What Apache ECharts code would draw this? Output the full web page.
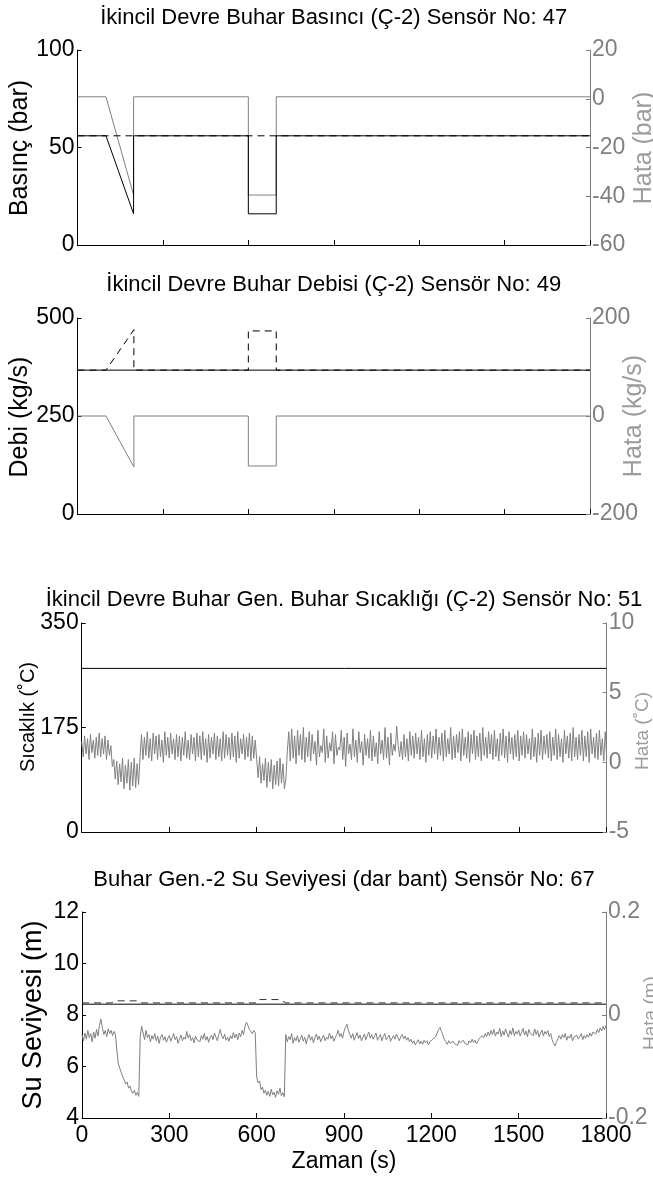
<!DOCTYPE html>
<html><head><meta charset="utf-8">
<script src="https://cdn.jsdelivr.net/npm/echarts@6/dist/echarts.min.js"></script>
<style>html,body{margin:0;padding:0;background:#fff}#c{width:653px;height:1183px}</style>
</head><body><div id="c"></div><script>
// ---------- data ----------
const xTicks = [0, 300, 600, 900, 1200, 1500, 1800];
const titles = [
  'İkincil Devre Buhar Basıncı (Ç-2) Sensör No: 47',
  'İkincil Devre Buhar Debisi (Ç-2) Sensör No: 49',
  'İkincil Devre Buhar Gen. Buhar Sıcaklığı (Ç-2) Sensör No: 51',
  'Buhar Gen.-2 Su Seviyesi (dar bant) Sensör No: 67'
];
const leftNames = ['Basınç (bar)', 'Debi (kg/s)', 'Sıcaklık (˚C)', 'Su Seviyesi (m)'];
const rightNames = ['Hata (bar)', 'Hata (kg/s)', 'Hata (˚C)', 'Hata (m)'];
const xName = 'Zaman (s)';
// Panel 1: pressure (bar) / error (bar)
const p1Time = [0, 100, 197, 197, 600, 600, 698, 698, 1800];
const p1Measured = [56, 56, 16, 56, 56, 16, 16, 56, 56];
const p1EstTime = [0, 1800];
const p1Estimate = [56, 56];
const p1Error = [0.8, 0.8, -39.5, 0.8, 0.8, -39.5, -39.5, 0.8, 0.8];
// Panel 2: flow (kg/s) / error (kg/s)
const p2EstTime = [0, 1800];
const p2Estimate = [367, 367];
const p2Time = [0, 100, 198, 198, 600, 600, 698, 698, 1800];
const p2Measured = [367, 367, 470, 367, 367, 467, 467, 367, 367];
const p2Error = [0, 0, -104, 0, 0, -102, -102, 0, 0];
// Panel 3: temperature (°C) / error (°C), error sampled every 5 s
const p3Time = [0, 1800];
const p3Measured = [274, 274];
const sampleStep = 5;
const p3Error = [
1.5,0.4,1.9,0.6,1.7,0.2,2.0,0.7,1.6,0.3,1.8,0.5,2.1,0.4,1.7,0.6,1.9,0.2,1.6,0.5,
1.2,-0.3,0.2,-1.2,0.1,-1.6,-0.1,-1.4,0.3,-1.9,-0.2,-1.5,0.2,-2.0,0.0,-1.7,0.3,-1.8,-0.1,-1.6,
0.4,2.0,0.2,1.8,0.5,2.2,0.3,1.7,0.1,2.1,0.6,1.9,0.2,2.0,0.4,1.6,0.0,2.2,0.5,1.8,
0.3,2.1,0.6,1.7,0.2,2.0,0.4,1.9,0.1,1.8,0.5,2.2,0.3,1.6,0.2,2.0,0.6,1.8,0.1,2.1,
0.4,1.9,0.2,2.2,0.5,1.7,0.0,2.0,0.3,1.8,0.6,2.1,0.2,1.9,0.4,1.7,0.1,2.2,0.3,2.0,
0.5,1.8,0.2,2.1,0.4,1.9,0.0,2.2,0.3,1.7,0.6,2.0,0.2,1.8,0.4,2.1,0.1,1.9,0.3,1.6,
0.2,-1.1,0.4,-1.5,-0.1,-1.3,0.3,-1.8,0.0,-1.4,0.2,-1.9,-0.2,-1.6,0.1,-1.7,0.3,-1.5,-0.1,-1.9,
-1.2,0.8,2.2,0.1,2.4,0.3,1.9,-0.1,2.3,0.5,2.0,0.2,2.5,0.0,1.8,0.4,2.2,0.1,2.0,0.6,
1.5,-0.2,2.3,0.4,1.2,0.7,2.4,0.0,1.9,0.3,1.4,0.8,2.2,-0.1,2.0,0.5,1.1,0.9,2.3,0.2,
1.8,-0.3,2.1,0.6,1.3,0.2,2.4,0.4,1.6,0.0,2.2,0.7,1.5,-0.2,2.0,0.5,1.7,0.3,2.3,0.1,
1.9,0.4,1.4,-0.1,2.2,0.6,1.6,0.2,2.5,0.3,1.8,-0.2,2.1,0.5,1.3,0.8,2.6,1.2,0.4,1.5,
0.2,2.0,0.4,1.7,0.1,2.2,0.5,1.9,0.3,2.1,0.6,1.8,0.2,2.3,0.4,1.7,0.0,2.0,0.5,2.2,
0.3,1.9,0.6,2.4,0.2,1.8,0.5,2.1,0.1,2.3,0.4,1.7,0.6,2.5,0.2,1.9,0.3,2.0,0.7,2.2,
0.1,2.4,0.5,1.8,0.3,2.2,0.0,2.0,0.6,2.3,0.2,1.9,0.4,2.1,0.1,2.5,0.5,1.8,0.3,2.2,
0.6,2.0,0.2,2.3,0.4,1.7,0.1,2.1,0.5,2.4,0.3,1.9,0.0,2.2,0.6,1.8,0.2,2.0,0.4,2.3,
0.1,1.9,0.5,2.2,0.3,2.0,0.6,1.7,0.2,2.4,0.4,1.8,0.0,2.1,0.5,2.3,0.2,1.9,0.6,2.0,
0.3,2.2,0.1,1.8,0.5,2.4,0.2,2.0,0.4,1.7,0.0,2.3,0.6,1.9,0.3,2.1,0.1,2.5,0.4,1.8,
0.2,2.0,0.5,2.3,0.1,1.9,0.4,2.2,0.0,2.4,0.6,1.8,0.3,2.1,0.2,2.3,0.5,1.7,0.1,2.2,
0.3];
// Panel 4: level (m) / error (mm, shown in m), error sampled every 5 s
const p4Time = [0, 1800];
const p4Measured = [8.42, 8.42];
const p4EstTime = [0, 100, 120, 190, 200, 600, 610, 680, 700, 1800];
const p4Estimate = [8.47, 8.47, 8.55, 8.55, 8.47, 8.47, 8.6, 8.6, 8.47, 8.47];
const p4ErrorMm = [
-38,-50,-35,-47,-30,-44,-36,-52,-33,-45,-28,-41,-20,-8,-25,-38,-30,-42,-27,-36,
-30,-40,-32,-38,-70,-95,-104,-112,-120,-126,-134,-130,-142,-138,-148,-152,-146,-156,-150,-158,
-42,-22,-35,-48,-30,-44,-38,-52,-40,-47,-36,-50,-41,-55,-43,-38,-49,-42,-53,-45,
-40,-51,-44,-36,-48,-42,-55,-46,-39,-50,-43,-47,-32,-45,-38,-50,-44,-54,-41,-48,
-45,-52,-40,-47,-36,-49,-42,-53,-44,-39,-48,-35,-43,-50,-38,-28,-41,-46,-37,-49,
-43,-51,-40,-46,-34,-44,-37,-48,-35,-42,-30,-38,-22,-14,-20,-28,-32,-36,-30,-34,
-120,-132,-128,-145,-140,-152,-146,-156,-148,-158,-144,-155,-150,-160,-147,-154,-142,-157,-151,-159,
-38,-52,-42,-48,-36,-55,-44,-50,-40,-53,-46,-39,-51,-43,-56,-45,-38,-49,-42,-54,
-44,-37,-48,-41,-52,-45,-39,-50,-43,-47,-35,-46,-40,-51,-44,-38,-30,-42,-36,-45,
-32,-24,-18,-30,-38,-45,-36,-49,-41,-34,-46,-39,-50,-43,-37,-48,-40,-33,-45,-38,
-47,-41,-35,-49,-43,-38,-50,-42,-36,-48,-44,-39,-51,-45,-40,-47,-37,-44,-50,-42,
-38,-46,-41,-49,-44,-52,-47,-55,-50,-58,-53,-48,-56,-51,-57,-49,-54,-50,-58,-52,
-55,-47,-50,-42,-35,-28,-24,-32,-40,-48,-52,-57,-50,-55,-58,-51,-56,-53,-59,-50,
-54,-57,-49,-55,-52,-58,-50,-54,-47,-53,-49,-56,-51,-45,-48,-40,-44,-36,-42,-33,
-40,-30,-38,-28,-41,-33,-37,-26,-42,-31,-39,-27,-36,-43,-30,-38,-25,-40,-32,-37,
-29,-41,-34,-26,-39,-31,-42,-28,-36,-33,-40,-27,-38,-30,-43,-35,-29,-41,-32,-37,
-30,-42,-36,-48,-55,-60,-52,-46,-40,-47,-38,-44,-36,-49,-41,-45,-37,-50,-43,-46,
-39,-47,-42,-36,-48,-40,-45,-38,-43,-35,-41,-33,-30,-37,-28,-34,-25,-31,-22,-29,
-20];

// ---------- styling ----------
const REG = '"Liberation Sans", Arial, sans-serif';
const BLACK = '#000000', GRAY = '#808080', NAMEGRAY = '#9c9c9c';
const TICKFONT = 23;

const grids = [
  {left: 77.5, top: 50, width: 512.5, height: 195},
  {left: 77.5, top: 318, width: 512.5, height: 196},
  {left: 81.7, top: 623, width: 525, height: 209},
  {left: 82, top: 912, width: 524, height: 206}
];
const titlePos = [[333.75, 18], [333.75, 285], [344, 600], [344, 880]];
// rotated axis-name placement: [x, y, fontSize]
const leftNamePos = [[20, 148, 25], [20, 417, 25], [28, 717, 20], [33.5, 1015, 27]];
const rightNamePos = [[644, 148, 25], [634, 416, 25], [643, 731, 19], [651, 1013, 19]];

function zip(t, v, scale) { return t.map((x, i) => [x, scale ? v[i] * scale : v[i]]); }
function sampled(v, scale) { return v.map((y, i) => [i * sampleStep, scale ? y * scale : y]); }
function plain(v) { return String(Math.round(v * 1000) / 1000); }

function xAx(gi, last) {
  return {
    type: 'value', gridIndex: gi, min: xTicks[0], max: xTicks[xTicks.length - 1], interval: 300,
    axisLine: {show: true, onZero: false, lineStyle: {color: BLACK, width: 1}},
    axisTick: {show: true, inside: true, length: 5, lineStyle: {color: BLACK}},
    axisLabel: {show: last, color: BLACK, fontFamily: REG, fontSize: TICKFONT, margin: 6, formatter: plain},
    splitLine: {show: false},
    name: last ? xName : '', nameLocation: 'middle', nameGap: 32,
    nameTextStyle: {color: BLACK, fontFamily: REG, fontSize: 23}
  };
}
function yAx(gi, right, min, max, interval) {
  const col = right ? GRAY : BLACK;
  return {
    type: 'value', gridIndex: gi, position: right ? 'right' : 'left', min, max, interval,
    axisLine: {show: true, onZero: false, lineStyle: {color: col, width: 1}},
    axisTick: {show: true, inside: true, length: 4, lineStyle: {color: col}},
    axisLabel: {show: true, color: col, fontFamily: REG, fontSize: TICKFONT, margin: right ? 2 : 3, formatter: plain},
    splitLine: {show: false}
  };
}
function line(xi, yi, data, color, dashed) {
  return {
    type: 'line', xAxisIndex: xi, yAxisIndex: yi, data, showSymbol: false, symbol: 'none',
    lineStyle: {color, width: 1, type: dashed ? [7, 5] : 'solid'}, silent: true, animation: false
  };
}
function vtext(txt, pos, color) {
  return {
    type: 'text', x: pos[0], y: pos[1], rotation: Math.PI / 2, silent: true,
    style: {text: txt, fill: color, fontFamily: REG, fontSize: pos[2],
      align: 'center', verticalAlign: 'middle', textAlign: 'center', textVerticalAlign: 'middle'}
  };
}

const graphics = [];
titles.forEach((t, i) => graphics.push({
  type: 'text', x: titlePos[i][0], y: titlePos[i][1], silent: true,
  style: {text: t, fill: BLACK, fontFamily: REG, fontSize: 22,
    align: 'center', verticalAlign: 'middle', textAlign: 'center', textVerticalAlign: 'middle'}
}));
leftNames.forEach((t, i) => graphics.push(vtext(t, leftNamePos[i], BLACK)));
rightNames.forEach((t, i) => graphics.push(vtext(t, rightNamePos[i], NAMEGRAY)));

const option = {
  animation: false,
  backgroundColor: '#ffffff',
  grid: grids,
  xAxis: [xAx(0, false), xAx(1, false), xAx(2, false), xAx(3, true)],
  yAxis: [
    yAx(0, false, 0, 100, 50), yAx(0, true, -60, 20, 20),
    yAx(1, false, 0, 500, 250), yAx(1, true, -200, 200, 200),
    yAx(2, false, 0, 350, 175), yAx(2, true, -5, 10, 5),
    yAx(3, false, 4, 12, 2), yAx(3, true, -0.2, 0.2, 0.2)
  ],
  series: [
    line(0, 1, zip(p1Time, p1Error), GRAY),
    line(0, 0, zip(p1EstTime, p1Estimate), BLACK, true),
    line(0, 0, zip(p1Time, p1Measured), BLACK),
    line(1, 3, zip(p2Time, p2Error), GRAY),
    line(1, 2, zip(p2Time, p2Measured), BLACK, true),
    line(1, 2, zip(p2EstTime, p2Estimate), BLACK),
    line(2, 5, sampled(p3Error), GRAY),
    line(2, 4, zip(p3Time, p3Measured), BLACK),
    line(3, 7, sampled(p4ErrorMm, 0.001), GRAY),
    line(3, 6, zip(p4Time, p4Measured), BLACK),
    line(3, 6, zip(p4EstTime, p4Estimate), '#333333', true)
  ],
  graphic: graphics
};
const chart = echarts.init(document.getElementById('c'), null, {renderer: 'canvas'});
chart.setOption(option);
</script></body></html>
